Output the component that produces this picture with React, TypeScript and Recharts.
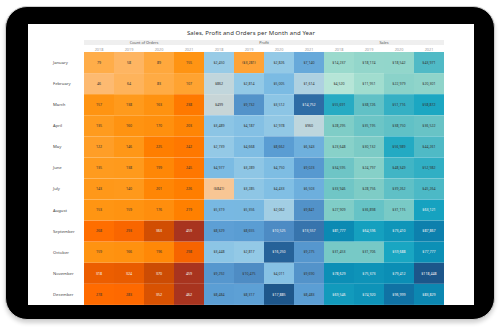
import { Bar, BarChart, Cell, LabelList, XAxis, YAxis } from "recharts";

const months = [
  "January", "February", "March", "April", "May", "June",
  "July", "August", "September", "October", "November", "December",
];
const years = ["2018", "2019", "2020", "2021"];
const groups = ["Count of Orders", "Profit", "Sales"];

// one row per month, columns 2018..2021
const orders = [
  [79, 58, 89, 155], [46, 64, 83, 107], [157, 138, 163, 238], [135, 160, 170, 203],
  [122, 146, 225, 242], [135, 138, 199, 245], [143, 140, 201, 226], [153, 159, 176, 219],
  [268, 293, 363, 459], [159, 166, 196, 298], [318, 324, 370, 459], [278, 283, 352, 462],
];
const profit = [
  [2450, -3281, 2826, 7140], [862, 2814, 5005, 1614], [499, 9732, 3512, 14752],
  [3489, 4187, 2978, 960], [2739, 4668, 8662, 6343], [4977, 3289, 4750, 9023],
  [-841, 3285, 4433, 6503], [5319, 5356, 2062, 9841], [8329, 8655, 10525, 13557],
  [3448, 2817, 16250, 9275], [9292, 10475, 4011, 9690], [8484, 8317, 17885, 8483],
];
const sales = [
  [14237, 18174, 18542, 43971], [4520, 11951, 22979, 20301], [55691, 38726, 51716, 58872],
  [28295, 35195, 38750, 36522], [23648, 30132, 56989, 44261], [34595, 24797, 48349, 52982],
  [33946, 28756, 39262, 45264], [27909, 36898, 31115, 63121], [81777, 64596, 73410, 87867],
  [31453, 31706, 59688, 77777], [78629, 75373, 79412, 118448], [69546, 74920, 96999, 83829],
];

const orderStops: [number, string][] = [
  [40, "#fdbd78"], [90, "#ffa83c"], [150, "#ff9614"], [220, "#ff8000"],
  [280, "#ff6a00"], [330, "#e65a00"], [370, "#cc4c04"], [460, "#a8341f"],
];
const profitStops: [number, string][] = [
  [-3500, "#ffa030"], [-2000, "#fdb55c"], [-800, "#f8c796"], [0, "#d0d4d0"],
  [900, "#c0d6dd"], [2500, "#97cbe6"], [5000, "#7bbbe3"], [8500, "#5b9ed4"],
  [11000, "#4a87c0"], [15000, "#2c6aa3"], [18000, "#1d568a"],
];
const salesStops: [number, string][] = [
  [4000, "#b7e6d8"], [15000, "#99d9cc"], [30000, "#7ccbc6"], [45000, "#4db9c6"],
  [60000, "#18a6c2"], [80000, "#0b8db5"], [95000, "#0f75a6"], [120000, "#1d5488"],
];

function hex(c: string) {
  return [1, 3, 5].map((i) => parseInt(c.slice(i, i + 2), 16));
}

function colorFor(v: number, stops: [number, string][]) {
  if (v <= stops[0][0]) return stops[0][1];
  for (let i = 1; i < stops.length; i++) {
    if (v <= stops[i][0]) {
      const t = (v - stops[i - 1][0]) / (stops[i][0] - stops[i - 1][0]);
      const a = hex(stops[i - 1][1]);
      const b = hex(stops[i][1]);
      return `rgb(${a.map((x, k) => Math.round(x + (b[k] - x) * t)).join(",")})`;
    }
  }
  return stops[stops.length - 1][1];
}

function textColor(fill: string) {
  const m = fill.startsWith("#") ? hex(fill) : fill.slice(4, -1).split(",").map(Number);
  const lum = (0.299 * m[0] + 0.587 * m[1] + 0.114 * m[2]) / 255;
  return lum < 0.5 ? "#f4f4f4" : "#333";
}

const money = (v: number) =>
  v < 0 ? `($${Math.abs(v).toLocaleString("en-US")})` : `$${v.toLocaleString("en-US")}`;

// 12 columns: 4 years of orders, profit, sales
const columns = [0, 1, 2, 3, 4, 5, 6, 7, 8, 9, 10, 11];
const valueAt = (row: number, col: number) => {
  const g = Math.floor(col / 4);
  const y = col % 4;
  return g === 0 ? orders[row][y] : g === 1 ? profit[row][y] : sales[row][y];
};
const fillAt = (row: number, col: number) => {
  const g = Math.floor(col / 4);
  const stops = g === 0 ? orderStops : g === 1 ? profitStops : salesStops;
  return colorFor(valueAt(row, col), stops);
};
const labelAt = (row: number, col: number) =>
  col < 4 ? String(valueAt(row, col)) : money(valueAt(row, col));

const data = months.map((month) => {
  const row: Record<string, string | number> = { month };
  columns.forEach((c) => (row[`c${c}`] = 1));
  return row;
});

const FONT = "'Noto Sans', 'Open Sans', sans-serif";
const CELL_W = 30;

function HeaderTick(props: any) {
  const { x, y, index, payload } = props;
  const year = years[Math.round(payload.value - 0.5) % 4];
  return (
    <g>
      {index % 4 === 0 && (
        <g>
          <rect x={x - CELL_W / 2} y={y - 12} width={CELL_W * 4} height={5} fill="#efefef" />
          <text
            x={x - CELL_W / 2 + CELL_W * 2}
            y={y - 8.3}
            textAnchor="middle"
            fontSize={3.8}
            fill="#555"
            fontFamily={FONT}
          >
            {groups[index / 4]}
          </text>
        </g>
      )}
      <text x={x} y={y - 1.5} textAnchor="middle" fontSize={3.8} fill="#999" fontFamily={FONT}>
        {year}
      </text>
    </g>
  );
}

function MonthTick(props: any) {
  const { x, y, payload } = props;
  return (
    <text x={x - 23} y={y + 1.4} textAnchor="start" fontSize={4.2} fill="#444" fontFamily={FONT}>
      {payload.value}
    </text>
  );
}

function CellLabel(col: number) {
  return (props: any) => {
    const { x, y, width, height, index } = props;
    const fill = fillAt(index, col);
    return (
      <text
        x={x + width / 2}
        y={y + height / 2 + 1.2}
        textAnchor="middle"
        fontSize={3.6}
        fill={textColor(fill)}
        fontFamily={FONT}
      >
        {labelAt(index, col)}
      </text>
    );
  };
}

export default function App() {
  return (
    <div style={{ position: "fixed", left: 0, top: 0, width: 500, height: 330, background: "#fff" }}>
      <div
        style={{
          position: "absolute",
          left: 5,
          top: 6,
          width: 488,
          height: 312,
          background: "#000",
          borderRadius: 22,
          border: "1.5px solid #cfcfcf",
          boxShadow: "0 3px 4px rgba(0,0,0,0.18)",
        }}
      />
      <div
        style={{
          position: "absolute",
          left: 28,
          top: 24,
          width: 446,
          height: 281,
          background: "#fff",
          overflow: "hidden",
        }}
      >
        <div
          style={{
            position: "absolute",
            top: 5,
            width: 446,
            textAlign: "center",
            fontFamily: FONT,
            fontSize: 6,
            color: "#333",
            letterSpacing: 0.1,
          }}
        >
          Sales, Profit and Orders per Month and Year
        </div>
        <BarChart
          width={446}
          height={281}
          data={data}
          layout="vertical"
          barCategoryGap={0}
          margin={{ top: 14, right: 30, left: 0, bottom: 0 }}
        >
          <XAxis
            type="number"
            orientation="top"
            domain={[0, 12]}
            ticks={columns.map((c) => c + 0.5)}
            tick={<HeaderTick />}
            axisLine={false}
            tickLine={false}
            tickSize={0}
            tickMargin={0}
            height={14}
            interval={0}
          />
          <YAxis
            type="category"
            dataKey="month"
            width={56}
            axisLine={false}
            tickLine={false}
            tick={<MonthTick />}
            interval={0}
          />
          {columns.map((c) => (
            <Bar key={c} dataKey={`c${c}`} stackId="s" isAnimationActive={false}>
              {months.map((m, r) => (
                <Cell key={m} fill={fillAt(r, c)} />
              ))}
              <LabelList dataKey={`c${c}`} content={CellLabel(c)} />
            </Bar>
          ))}
        </BarChart>
      </div>
    </div>
  );
}
